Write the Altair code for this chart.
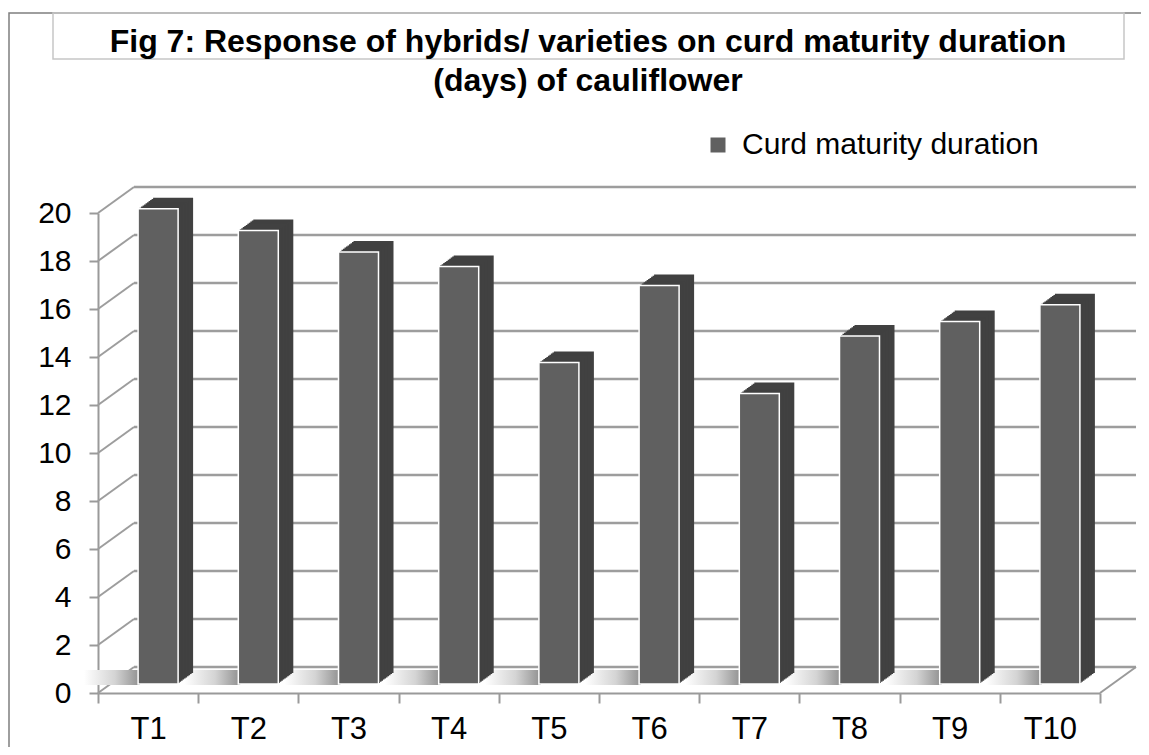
import altair as alt
import pandas as pd

# ---- data ----
categories = ["T1", "T2", "T3", "T4", "T5", "T6", "T7", "T8", "T9", "T10"]
values = [19.8, 18.9, 18.0, 17.4, 13.4, 16.6, 12.1, 14.5, 15.1, 15.8]
series_name = "Curd maturity duration"
y_ticks = [0, 2, 4, 6, 8, 10, 12, 14, 16, 18, 20]
title_lines = [
    "Fig 7: Response of hybrids/ varieties on curd maturity duration",
    "(days) of cauliflower",
]

# ---- layout / styling ----
W, H = 1002, 480
DX, DY = 36, 26          # depth of the back wall
BAR_SIZE = 40
BAR_SHIFT = 10
BAR_LIFT = 9
EXT_X, EXT_Y = 15, 11    # bar extrusion (side/top faces)
N_EXT = 10
FONT = "Liberation Sans"
GRID = "#9d9d9d"
AXIS = "#9a9a9a"

bars_df = pd.DataFrame({"cat": categories, "value": values, "series": [series_name] * len(categories)})
ticks_df = pd.DataFrame({"t": y_ticks})
one_df = pd.DataFrame({"a": [0]})

y_scale = alt.Scale(domain=[0, 20], nice=False, zero=True)
x_scale = alt.Scale(domain=categories, paddingInner=0, paddingOuter=0)

x_axis = alt.Axis(
    title=None, labelAngle=0, tickBand="extent", tickSize=10, tickColor=AXIS, tickWidth=2,
    domainColor=AXIS, domainWidth=2, labelFontSize=31, labelFont=FONT, labelColor="black",
    labelPadding=11, grid=False,
)
y_axis = alt.Axis(
    title=None, values=y_ticks, tickSize=9, tickColor=AXIS, tickWidth=2,
    domainColor=AXIS, domainWidth=2, labelFontSize=30, labelFont=FONT, labelColor="black",
    labelPadding=18, grid=False,
)

x_enc = alt.X("cat:N", sort=categories, scale=x_scale, axis=x_axis)

# back-wall gridlines
grid = alt.Chart(ticks_df).mark_rule(color=GRID, strokeWidth=2.5, yOffset=-DY).encode(
    y=alt.Y("t:Q", scale=y_scale, axis=y_axis),
    x=alt.value(DX), x2=alt.value(W + DX),
)
# left side-wall diagonals
diag = alt.Chart(ticks_df).mark_rule(color=GRID, strokeWidth=2, y2Offset=-DY).encode(
    y=alt.Y("t:Q", scale=y_scale, axis=y_axis), y2=alt.Y2("t:Q"),
    x=alt.value(0), x2=alt.value(DX),
)
# right floor diagonal
floor_diag = alt.Chart(one_df).mark_rule(color=AXIS, strokeWidth=2, y2Offset=-DY).encode(
    y=alt.datum(0, scale=y_scale), y2=alt.datum(0),
    x=alt.value(W), x2=alt.value(W + DX),
)

# floor shadows beside each bar
shadow_grad = alt.Gradient(
    gradient="linear",
    stops=[alt.GradientStop(color="#ffffff", offset=0),
           alt.GradientStop(color="#d4d4d4", offset=0.55),
           alt.GradientStop(color="#8f8f8f", offset=1)],
    x1=0, x2=1, y1=0, y2=0,
)
shadows = alt.Chart(bars_df).mark_bar(
    size=56, fill=shadow_grad, xOffset=BAR_SHIFT - BAR_SIZE / 2 - 26,
    yOffset=-BAR_LIFT - 14, y2Offset=-BAR_LIFT + 1,
).encode(x=x_enc, y=alt.datum(0, scale=y_scale), y2=alt.datum(0))

layers = [grid, diag, floor_diag, shadows]

# extrusion (side + top faces)
for k in range(N_EXT, 0, -1):
    fx = EXT_X * k / N_EXT
    fy = EXT_Y * k / N_EXT
    layers.append(
        alt.Chart(bars_df).mark_bar(
            size=BAR_SIZE, fill="#414141",
            xOffset=BAR_SHIFT + fx, yOffset=-BAR_LIFT - fy, y2Offset=-BAR_LIFT - fy,
        ).encode(x=x_enc, y=alt.Y("value:Q", scale=y_scale, axis=y_axis), y2=alt.datum(0))
    )

# front faces with legend
front = alt.Chart(bars_df).mark_bar(
    size=BAR_SIZE, stroke="white", strokeWidth=1.5,
    xOffset=BAR_SHIFT, yOffset=-BAR_LIFT, y2Offset=-BAR_LIFT,
).encode(
    x=x_enc,
    y=alt.Y("value:Q", scale=y_scale, axis=y_axis),
    y2=alt.datum(0),
    color=alt.Color(
        "series:N", scale=alt.Scale(range=["#606060"]),
        legend=alt.Legend(
            title=None, orient="none", legendX=605, legendY=-83, symbolType="square",
            symbolSize=225, symbolStrokeWidth=0, labelFontSize=30, labelFont=FONT,
            labelColor="black", labelOffset=9, labelLimit=0, padding=0,
        ),
    ),
)
layers.append(front)

# outer chart frame and title box
frame = alt.Chart(one_df).mark_rect(filled=False, stroke="#7f7f7f", strokeWidth=1.5).encode(
    x=alt.value(-89), x2=alt.value(W + 80), y=alt.value(-200), y2=alt.value(H + 120),
)
title_box = alt.Chart(one_df).mark_rect(filled=False, stroke="#c6c6c6", strokeWidth=1.5).encode(
    x=alt.value(-45), x2=alt.value(1026), y=alt.value(-200), y2=alt.value(-154),
)
title = alt.Chart(one_df).mark_text(
    font=FONT, fontSize=32, fontWeight="bold", color="black", align="center",
    baseline="alphabetic", lineHeight=39,
).encode(x=alt.value(490), y=alt.value(-161), text=alt.value(title_lines))

chart = alt.layer(frame, title_box, title, *layers).properties(
    width=W, height=H,
    padding={"left": 90, "top": 205, "right": 41, "bottom": 54},
    autosize=alt.AutoSizeParams(type="none"),
    background="white",
).configure_view(strokeWidth=0)

chart.save("out.html", embed_options={"renderer": "svg", "actions": False})
